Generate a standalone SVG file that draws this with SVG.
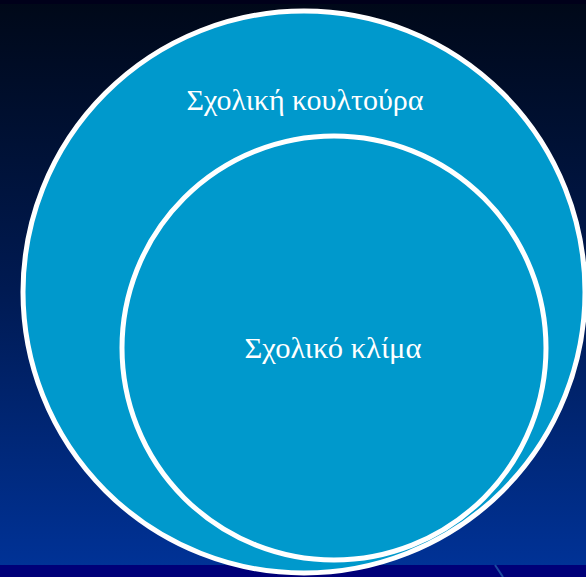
<svg xmlns="http://www.w3.org/2000/svg" width="586" height="577" viewBox="0 0 586 577">
<defs>
<linearGradient id="bg" x1="0" y1="0" x2="0" y2="1">
<stop offset="0" stop-color="#000818"/>
<stop offset="0.5" stop-color="#001a52"/>
<stop offset="1" stop-color="#003399"/>
</linearGradient>
<style>
.c{fill:#0099cc;stroke:#ffffff;stroke-width:5}
.t{font-family:"Liberation Serif","DejaVu Serif",serif;font-size:29px;fill:#ffffff;text-anchor:middle}
</style>
</defs>
<rect x="0" y="0" width="586" height="577" fill="url(#bg)"/>
<rect x="0" y="0" width="586" height="4" fill="#00001a"/>
<rect x="0" y="565" width="586" height="12" fill="#000078"/>
<line x1="495" y1="565" x2="503" y2="577" stroke="#1a4aa0" stroke-width="2"/>
<g id="culture">
<circle class="c" cx="304" cy="292" r="281"/>
<text class="t" x="305" y="110" textLength="237" lengthAdjust="spacingAndGlyphs">Σχολική κουλτούρα</text>
</g>
<g id="climate">
<circle class="c" cx="334" cy="348" r="212"/>
<text class="t" x="333" y="358" textLength="177" lengthAdjust="spacingAndGlyphs">Σχολικό κλίμα</text>
</g>
<g id="connectors"/>
</svg>
